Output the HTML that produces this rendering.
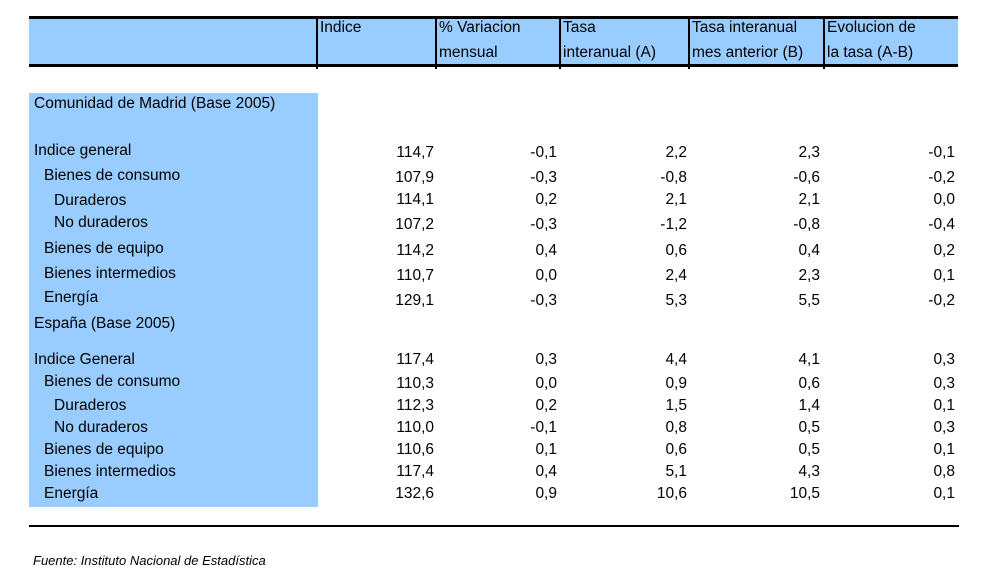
<!DOCTYPE html>
<html><head><meta charset="utf-8">
<style>
body{margin:0;width:990px;height:582px;background:#fff;position:relative;overflow:hidden;font-family:"Liberation Sans",Arial,sans-serif;color:#000}
.a{position:absolute;white-space:nowrap;font-size:15.5px;line-height:18px}
.r{text-align:right}
</style></head><body>
<div style="position:absolute;left:29px;top:16px;width:929px;height:51px;background:#99ccff;border-top:3px solid #000;border-bottom:3px solid #000;box-sizing:border-box"></div>
<div style="position:absolute;left:29px;top:93px;width:289px;height:414px;background:#99ccff"></div>
<div style="position:absolute;left:29px;top:525px;width:930px;height:2px;background:#000"></div>
<div class="a" style="left:33px;top:552px;font-size:13px;font-style:italic">Fuente: Instituto Nacional de Estadística</div>
<div id="root"></div>
<script>
const headers=[["Indice",""],["% Variacion","mensual"],["Tasa","interanual (A)"],["Tasa interanual","mes anterior (B)"],["Evolucion de","la tasa (A-B)"]];
const sections=["Comunidad de Madrid (Base 2005)","España (Base 2005)"];
const labels=["Indice general","Bienes de consumo","Duraderos","No duraderos","Bienes de equipo","Bienes intermedios","Energía","Indice General","Bienes de consumo","Duraderos","No duraderos","Bienes de equipo","Bienes intermedios","Energía"];
const indice=["114,7","107,9","114,1","107,2","114,2","110,7","129,1","117,4","110,3","112,3","110,0","110,6","117,4","132,6"];
const variacion=["-0,1","-0,3","0,2","-0,3","0,4","0,0","-0,3","0,3","0,0","0,2","-0,1","0,1","0,4","0,9"];
const tasaA=["2,2","-0,8","2,1","-1,2","0,6","2,4","5,3","4,4","0,9","1,5","0,8","0,6","5,1","10,6"];
const tasaB=["2,3","-0,6","2,1","-0,8","0,4","2,3","5,5","4,1","0,6","1,4","0,5","0,5","4,3","10,5"];
const evol=["-0,1","-0,2","0,0","-0,4","0,2","0,1","-0,2","0,3","0,3","0,1","0,3","0,1","0,8","0,1"];
const indent=[0,1,2,2,1,1,1,0,1,2,2,1,1,1];
const labelY=[142,167,192,214,240,265,289,351,373,397,419,441,463,485];
const numY=[144,169,191,216,242,267,292,351,375,397,419,441,463,485];
const colX=[317,436,560,689,824];
const rightX=[434,557,687,820,955];
const cols=[indice,variacion,tasaA,tasaB,evol];
const root=document.getElementById('root');
function mk(txt,x,y,right,name){const d=document.createElement('div');d.className='a'+(right?' r':'');d.textContent=txt;
 if(right){d.style.right=(990-x)+'px';}else{d.style.left=x+'px';}d.style.top=y+'px';
 
 
 root.appendChild(d);return d;}
colX.forEach((x,i)=>{const v=document.createElement('div');v.style.cssText='position:absolute;left:'+(x-1)+'px;top:16px;width:2px;height:53px;background:#000';
 
 
 root.appendChild(v);
 mk(headers[i][0],x+3,19,false,'column-header');
 if(headers[i][1])mk(headers[i][1],x+3,44,false,'column-header');});
mk(sections[0],34,95,false,'section-title');
mk(sections[1],34,315,false,'section-title');
labels.forEach((l,i)=>{mk(l,34+indent[i]*10,labelY[i],false,'row-label');
 cols.forEach((c,j)=>mk(c[i],rightX[j],numY[i],true,'cell-value'));});
</script>
</body></html>
